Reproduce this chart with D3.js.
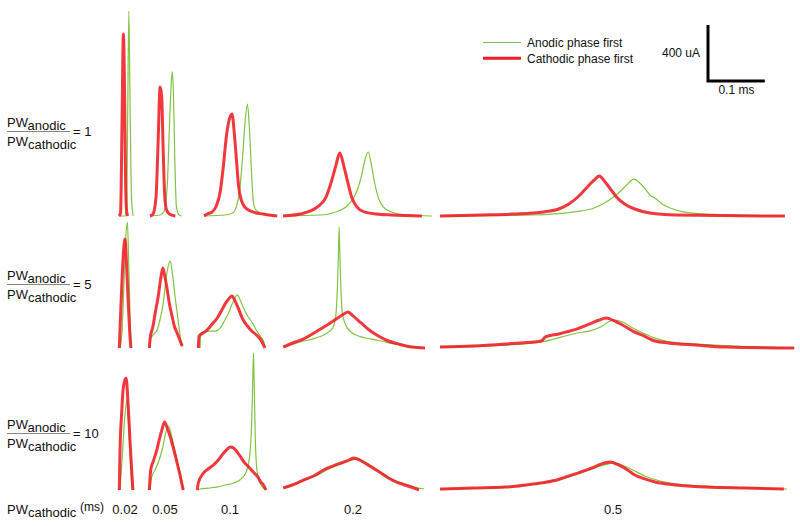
<!DOCTYPE html>
<html>
<head>
<meta charset="utf-8">
<script src="https://cdn.jsdelivr.net/npm/d3@7"></script>
<style>
body{margin:0;background:#fff}
svg{font-family:"Liberation Sans",Arial,sans-serif}
</style>
</head>
<body>
<svg id="chart" width="800" height="526"></svg>
<script>
var pulseWidths=['0.02','0.05','0.1','0.2','0.5'];
var ratios=[1,5,10];
var scaleBar={current:400,time:0.1};
// each trace: [time ms from panel start, current uA], one trace per pulse width
var anodic1=[
  [[0,0],[0.0107,0],[0.0134,71],[0.0152,679],[0.0173,1464],[0.0196,750],[0.0223,107],[0.025,0]],
  [[0.0018,0],[0.0196,7],[0.0268,36],[0.0321,214],[0.0357,607],[0.0393,964],[0.0411,1029],[0.0429,893],[0.0455,393],[0.0482,71],[0.0518,14],[0.0571,0]],
  [[0.0125,0],[0.05,7],[0.0625,21],[0.0696,71],[0.075,179],[0.0804,429],[0.0848,679],[0.0888,800],[0.092,643],[0.0955,357],[0.0991,107],[0.1036,43],[0.1125,21],[0.1232,7],[0.1411,0]],
  [[0,0],[0.0661,7],[0.0929,29],[0.1107,64],[0.1232,121],[0.1321,200],[0.1393,307],[0.1446,407],[0.15,457],[0.1554,371],[0.1607,250],[0.1679,129],[0.1768,64],[0.1911,29],[0.2179,7],[0.2625,0]],
  [[0,0],[0.1643,7],[0.2357,29],[0.2714,57],[0.2982,114],[0.3161,171],[0.3286,221],[0.3411,264],[0.3518,236],[0.3625,186],[0.3714,143],[0.3786,129],[0.3911,86],[0.4054,57],[0.4286,29],[0.4679,14],[0.6071,0]]
];
var cathodic1=[
  [[0,0],[0.0027,21],[0.0054,679],[0.0077,1300],[0.0098,893],[0.0116,250],[0.0134,36],[0.0152,0]],
  [[0.0018,0],[0.0071,14],[0.0125,143],[0.0161,536],[0.0196,921],[0.0223,857],[0.025,464],[0.0277,143],[0.0304,50],[0.0357,14],[0.0464,0]],
  [[0.0125,0],[0.0179,14],[0.0268,29],[0.0339,71],[0.0411,179],[0.0464,357],[0.0518,571],[0.0571,693],[0.0616,729],[0.0661,571],[0.0696,393],[0.0732,214],[0.0786,107],[0.0857,57],[0.0982,29],[0.1161,14],[0.1411,0]],
  [[0,0],[0.0304,14],[0.0482,36],[0.0625,71],[0.075,129],[0.0839,229],[0.0929,357],[0.1,450],[0.1071,357],[0.1143,236],[0.1214,129],[0.1304,64],[0.1429,29],[0.1643,14],[0.1911,7],[0.2446,0]],
  [[0,0],[0.075,7],[0.1286,14],[0.1821,29],[0.2089,50],[0.2268,86],[0.2446,143],[0.2625,221],[0.2732,264],[0.2804,286],[0.2893,250],[0.3,193],[0.3107,136],[0.325,86],[0.3429,50],[0.3696,21],[0.4143,7],[0.6071,0]]
];
var anodic5=[
  [[0.0018,0],[0.0054,121],[0.0089,479],[0.0121,800],[0.0148,900],[0.017,621],[0.0196,193],[0.0214,0]],
  [[0.0018,0],[0.0036,71],[0.0089,100],[0.0143,129],[0.0196,207],[0.025,321],[0.0286,443],[0.0321,550],[0.0375,621],[0.0411,536],[0.0464,350],[0.0518,179],[0.0554,71],[0.0584,7]],
  [[0.0054,0],[0.0063,107],[0.0143,114],[0.0232,121],[0.0321,121],[0.0411,143],[0.0482,193],[0.0554,250],[0.0625,321],[0.0709,379],[0.0768,336],[0.0827,279],[0.0893,229],[0.0977,179],[0.1054,121],[0.1125,79],[0.117,50],[0.1196,14]],
  [[0.0005,7],[0.0304,43],[0.0571,71],[0.075,100],[0.0875,143],[0.0929,229],[0.0955,407],[0.0973,621],[0.0988,864],[0.1,693],[0.1018,443],[0.1045,250],[0.1089,179],[0.1196,114],[0.1375,79],[0.1554,64],[0.1732,50],[0.1946,29],[0.2179,14],[0.2446,0]],
  [[0,7],[0.1161,21],[0.1786,43],[0.2143,79],[0.2411,107],[0.2625,121],[0.2786,143],[0.2857,157],[0.2964,186],[0.3071,200],[0.3214,186],[0.3393,143],[0.3571,107],[0.3786,71],[0.3982,50],[0.4464,29],[0.5179,14],[0.625,0]]
];
var cathodic5=[
  [[0.0005,0],[0.0018,136],[0.0045,407],[0.008,693],[0.0107,779],[0.0134,586],[0.0161,336],[0.0188,121],[0.0209,0]],
  [[0.0005,0],[0.0018,64],[0.0071,157],[0.0125,286],[0.0161,364],[0.0205,493],[0.0245,571],[0.0277,514],[0.0316,429],[0.0357,321],[0.0405,229],[0.0446,157],[0.0495,107],[0.0536,64],[0.0584,14]],
  [[0.0023,0],[0.0036,86],[0.0107,107],[0.0179,129],[0.0268,171],[0.0357,214],[0.0446,279],[0.0518,329],[0.0571,357],[0.0616,371],[0.0661,343],[0.0732,279],[0.0804,207],[0.0888,157],[0.0964,121],[0.1066,86],[0.1125,57],[0.1161,29],[0.1196,0]],
  [[0.0005,7],[0.0214,43],[0.0357,64],[0.0518,100],[0.0661,136],[0.0804,171],[0.0964,214],[0.1071,243],[0.1143,257],[0.1232,229],[0.1375,179],[0.1518,129],[0.1679,86],[0.1857,50],[0.2036,29],[0.2268,7],[0.25,0]],
  [[0,7],[0.0571,14],[0.1161,29],[0.1786,50],[0.1857,79],[0.2089,100],[0.2357,129],[0.2625,171],[0.2804,200],[0.2929,214],[0.3071,193],[0.3214,164],[0.3393,121],[0.3554,93],[0.3786,50],[0.4018,36],[0.45,21],[0.5036,7],[0.6232,0]]
];
var anodic10=[
  [[0.0018,0],[0.0054,214],[0.0098,500],[0.0138,643],[0.017,464],[0.0205,179],[0.0227,0]],
  [[0.0018,0],[0.0048,93],[0.0107,143],[0.0196,236],[0.025,321],[0.0286,393],[0.0345,457],[0.0393,393],[0.0464,264],[0.0518,171],[0.0563,100],[0.0602,0]],
  [[0.0018,0],[0.0054,7],[0.0196,14],[0.0352,21],[0.05,36],[0.0649,50],[0.0798,86],[0.0857,121],[0.0902,179],[0.0938,286],[0.0964,500],[0.0982,786],[0.0995,979],[0.1009,714],[0.1027,357],[0.1054,143],[0.1089,71],[0.1155,21],[0.1214,0]],
  [[0.0005,14],[0.0304,57],[0.0571,100],[0.0839,157],[0.1018,186],[0.1161,207],[0.1304,221],[0.1446,200],[0.1589,164],[0.1768,114],[0.1946,71],[0.2143,43],[0.2321,21],[0.2482,7]],
  [[0,7],[0.1107,21],[0.1821,50],[0.2268,93],[0.2625,143],[0.2893,179],[0.3071,193],[0.325,171],[0.3429,136],[0.3607,100],[0.3875,64],[0.4321,36],[0.5036,21],[0.6107,7]]
];
var cathodic10=[
  [[0.0005,0],[0.0018,286],[0.0045,536],[0.0077,736],[0.0125,800],[0.0161,607],[0.0196,336],[0.0223,143],[0.0245,0]],
  [[0.0005,0],[0.003,143],[0.0071,200],[0.0138,286],[0.0179,357],[0.0227,429],[0.0273,486],[0.0321,443],[0.0375,379],[0.0429,300],[0.0495,193],[0.0545,107],[0.0602,0]],
  [[0.0005,0],[0.0023,50],[0.0113,121],[0.0196,150],[0.0291,179],[0.0375,214],[0.047,264],[0.0536,293],[0.0589,307],[0.0643,300],[0.0709,271],[0.0768,236],[0.0827,200],[0.0911,164],[0.1006,121],[0.1071,93],[0.1125,57],[0.117,36],[0.1214,0]],
  [[0.0005,14],[0.0214,43],[0.0357,71],[0.0536,100],[0.0714,143],[0.0875,171],[0.1018,193],[0.1161,214],[0.125,229],[0.1411,200],[0.1554,164],[0.1696,129],[0.1857,86],[0.2,57],[0.2143,36],[0.2304,14],[0.2393,0]],
  [[0,7],[0.0571,14],[0.1161,21],[0.1643,43],[0.2054,71],[0.2268,100],[0.2482,129],[0.2714,164],[0.2893,193],[0.3,200],[0.3143,179],[0.3304,143],[0.3429,107],[0.3554,86],[0.3786,57],[0.4143,36],[0.4679,21],[0.5393,14],[0.6054,7]]
];

var rows=[
  {ratio:ratios[0],anodic:anodic1,cathodic:cathodic1},
  {ratio:ratios[1],anodic:anodic5,cathodic:cathodic5},
  {ratio:ratios[2],anodic:anodic10,cathodic:cathodic10}
];

var green='#82c341', red='#ee1d23';
var panelX=[119,149,197,283,440];
var rowBase=[216,348,490];
var labelTop=[127,280,429];
var tickX=[125,165,230,353,613];

var svg=d3.select('#chart');
var x=d3.scaleLinear().domain([0,0.1]).range([0,56.8]);
var y=d3.scaleLinear().domain([0,400]).range([0,-56]);
var line=d3.line().x(d=>x(d[0])).y(d=>y(d[1])).curve(d3.curveMonotoneX);

rows.forEach(function(r,i){
  var g=svg.append('g').attr('transform','translate(0,'+rowBase[i]+')');
  pulseWidths.forEach(function(pw,j){
    var p=g.append('g').attr('transform','translate('+panelX[j]+',0)');
    p.append('path').attr('d',line(r.anodic[j]))
      .attr('fill','none').attr('stroke',green).attr('stroke-width',1.2)
      .attr('stroke-linejoin','round');
    p.append('path').attr('d',line(r.cathodic[j]))
      .attr('fill','none').attr('stroke',red).attr('stroke-width',3)
      .attr('stroke-opacity',0.88).attr('stroke-linejoin','round');
  });

  // ratio label PWanodic / PWcathodic = n
  var N=labelTop[i];
  var t1=svg.append('text').attr('x',7).attr('y',N).attr('font-size',13).attr('fill','#111');
  t1.append('tspan').text('PW');
  t1.append('tspan').attr('dy',3).text('anodic');
  svg.append('line').attr('x1',7).attr('x2',70).attr('y1',N+4.5).attr('y2',N+4.5)
    .attr('stroke','#888').attr('stroke-width',1);
  var t2=svg.append('text').attr('x',7).attr('y',N+19).attr('font-size',13).attr('fill','#111');
  t2.append('tspan').text('PW');
  t2.append('tspan').attr('dy',3).text('cathodic');
  svg.append('text').attr('x',73).attr('y',N+9).attr('font-size',13).attr('fill','#111')
    .text('= '+r.ratio);
});

// bottom labels
var b=svg.append('text').attr('x',7).attr('y',514).attr('font-size',13).attr('fill','#111');
b.append('tspan').text('PW');
b.append('tspan').attr('dy',3).text('cathodic');
svg.append('text').attr('x',80).attr('y',511).attr('font-size',12).attr('fill','#111').text('(ms)');
pulseWidths.forEach(function(pw,j){
  svg.append('text').attr('x',tickX[j]).attr('y',514).attr('font-size',13)
    .attr('text-anchor','middle').attr('fill','#111').text(pw);
});

// legend
var leg=[{name:'Anodic phase first',c:green,w:1.2},{name:'Cathodic phase first',c:red,w:3}];
leg.forEach(function(l,i){
  var ly=42.5+i*15.8;
  svg.append('line').attr('x1',483).attr('x2',521).attr('y1',ly).attr('y2',ly)
    .attr('stroke',l.c).attr('stroke-width',l.w);
  svg.append('text').attr('x',527).attr('y',ly+4.5).attr('font-size',12).attr('fill','#111').text(l.name);
});

// scale bar
var sx=708, sy=81;
svg.append('path')
  .attr('d','M'+sx+','+(sy+y(scaleBar.current))+'V'+sy+'H'+(sx+x(scaleBar.time)))
  .attr('fill','none').attr('stroke','#000').attr('stroke-width',3);
svg.append('text').attr('x',700).attr('y',57).attr('font-size',12).attr('text-anchor','end')
  .attr('fill','#111').text(scaleBar.current+' uA');
svg.append('text').attr('x',sx+x(scaleBar.time)/2).attr('y',93.5).attr('font-size',12)
  .attr('text-anchor','middle').attr('fill','#111').text(scaleBar.time+' ms');
</script>
</body>
</html>
